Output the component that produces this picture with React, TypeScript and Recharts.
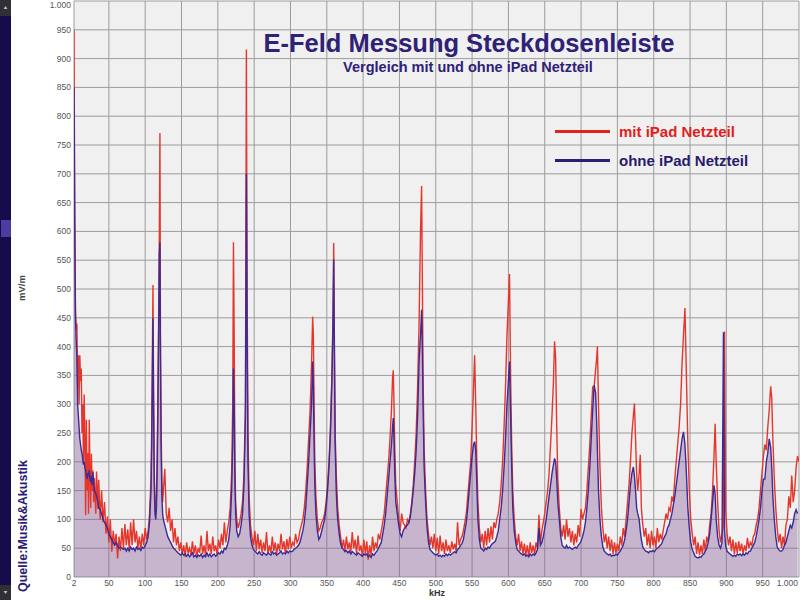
import React from "react";
import { ComposedChart, Line, Area, XAxis, YAxis, CartesianGrid } from "recharts";

const freqs = [2,3,4,5,6,7,8,9,10,11,12,13,14,15,16,17,18,19,20,21,22,23,24,25,26,27,28,29,30,32,33,35,36,38,40,42,44,46,48,50,52,54,56,58,60,62,64,66,68,70,72,74,76,78,80,82,84,86,88,90,92,94,96,98,100,102,104,106,108,109,110,110.7,111.5,112.5,113.5,114.5,115.5,116.5,117.5,118.5,119.5,120.3,121,122,123,124,125,127,129,131,133,135,137,139,141,143,145,147,149,151,153,155,157,159,161,163,165,167,169,171,173,175,177,179,181,183,185,187,189,191,193,195,197,199,201,203,205,207,209,211,213,215,217,219,220.5,221.5,222.5,223.5,224.5,226,228,230,232,234,236,238,239.3,240.3,241.5,243,245,247,249,251,253,255,257,259,261,263,265,267,269,271,273,275,277,279,281,283,285,287,289,291,293,295,297,299,301,303,305,307,309,311,313,315,317,319,321,323,325,327,329,330.5,331.5,332.5,333.5,335,337,339,341,343,345,347,349,351,353,355,357,358.5,359.5,360.5,361.5,363,364,365,367,369,371,373,375,377,379,381,383,385,387,389,391,393,395,397,399,401,403,405,407,409,411,413,415,417,419,421,423,425,427,429,431,433,435,437,439,440.5,441.5,442.5,443.5,445,447,449,451,453,455,457,459,461,463,465,467,469,471,473,475,477,479,480.5,481.5,482.5,484,486,488,490,492,494,496,498,500,502,504,506,508,510,512,514,516,518,520,522,524,526,528,530,532,534,536,538,540,542,544,546,548,550,552,553.5,555,556.5,558,560,562,564,566,568,570,572,574,576,578,580,582,584,586,588,590,592,594,596,598,600,601.5,603,604.5,606,608,610,612,614,616,618,620,622,624,626,628,630,632,634,636,638,640,642,644,646,648,650,652,654,656,658,660,662,663.5,665,666.5,668,670,672,674,676,678,680,682,684,686,688,690,692,694,696,698,700,702,704,706,708,710,712,714,716,718,720,721.5,722.5,724,726,728,730,732,734,736,738,740,742,744,746,748,750,752,754,756,758,760,762,764,766,768,770,772,773.5,775,776.5,778,780,781.5,783,785,787,789,791,793,795,797,799,801,803,805,807,809,811,813,815,817,819,821,823,825,827,829,831,833,835,837,839,841,843,845,847,849,851,853,855,857,859,861,863,865,867,869,871,873,875,877,879,881,883,884.5,886,888,890,892,894,896,897.5,899,901,903,905,907,909,911,913,915,917,919,921,923,925,927,929,931,933,935,937,939,941,943,945,947,949,951,953,955,957,959,961,962.5,964,966,968,970,972,974,976,978,980,982,984,986,988,990,992,994,996,998,1000];

const mitNetzteil = [950,640,465,430,440,330,385,300,385,340,362,250,300,200,317,235,107,273,150,215,110,273,180,120,214,150,185,130,172,110,183,118,169,100,150,95,130,75,105,60,100,44,80,55,75,32,70,45,85,50,92,55,83,48,95,55,100,60,80,50,70,48,75,55,85,65,80,110,170,260,400,507,330,180,130,110,140,200,317,450,600,771,420,250,160,130,150,188,110,95,120,80,100,60,85,55,70,45,60,40,55,35,60,42,50,38,62,40,55,35,50,42,72,40,55,38,80,45,58,40,70,45,55,38,65,50,75,55,95,60,80,95,120,180,300,581,420,200,130,100,85,95,110,130,180,300,916,500,250,140,90,70,55,80,45,75,48,65,42,60,45,78,40,55,42,70,45,60,40,58,45,75,48,62,42,66,48,70,50,60,55,75,60,65,80,90,100,120,150,190,240,290,370,452,420,300,200,140,100,80,85,95,100,110,130,160,200,260,350,450,580,400,250,180,150,120,90,70,50,65,45,70,48,60,42,78,50,65,40,72,45,55,35,65,40,62,30,55,38,70,45,60,50,75,65,80,95,110,140,170,200,240,290,345,359,300,230,160,130,100,80,110,95,90,85,100,95,110,130,160,200,250,330,440,600,679,520,350,220,150,100,75,55,70,50,75,45,68,40,72,45,60,40,65,45,55,42,62,48,58,45,95,55,65,70,80,95,110,140,170,200,260,330,385,300,200,130,85,60,75,50,80,55,85,60,88,65,95,85,100,110,130,160,200,260,330,420,480,526,350,230,150,100,70,55,75,45,62,40,58,38,55,35,60,42,55,40,60,50,108,60,80,95,110,130,150,180,230,280,340,409,380,260,170,120,85,70,90,65,100,70,85,60,80,55,75,60,90,70,118,100,110,120,150,190,230,280,330,330,360,380,400,300,190,120,85,60,75,50,70,45,65,40,60,42,58,45,70,55,85,70,100,130,160,200,250,280,301,240,180,150,180,212,120,90,70,85,55,75,50,80,55,70,50,85,60,75,65,80,95,110,100,120,115,140,130,170,200,230,260,300,370,420,467,350,230,150,100,75,55,70,40,60,38,55,40,65,45,70,60,90,110,150,210,266,200,130,80,60,75,90,426,120,75,55,70,45,65,40,60,42,62,45,58,40,55,45,68,50,60,55,70,75,90,100,120,150,180,210,230,220,260,290,331,310,240,170,120,85,60,75,50,70,55,90,100,140,120,176,130,150,190,210,200];

const ohneNetzteil = [850,620,452,410,380,300,280,260,240,230,220,215,205,195,200,190,185,175,170,180,175,185,170,165,175,160,182,165,150,145,140,130,120,117,110,100,95,90,85,75,70,65,60,55,60,55,50,52,50,48,50,45,50,45,52,48,50,45,52,48,50,46,52,50,55,60,70,95,150,230,360,449,300,160,110,100,120,190,291,420,560,581,380,220,140,110,100,90,80,70,65,60,55,50,48,45,42,40,38,42,38,40,36,40,35,38,42,35,38,34,38,36,40,34,38,35,42,36,40,35,38,40,36,38,42,40,45,42,50,48,55,65,90,150,230,362,300,170,110,80,70,75,90,110,160,280,700,420,200,110,70,55,48,45,42,40,44,40,38,42,40,38,42,40,38,44,40,42,38,40,42,45,40,42,40,45,42,45,44,45,48,50,52,55,60,70,80,95,120,160,200,250,300,374,330,230,160,110,80,65,70,80,90,100,120,150,190,250,340,440,551,380,230,150,120,100,75,58,50,48,44,46,42,45,40,44,42,40,38,42,40,38,36,40,38,40,35,38,34,40,38,42,45,50,55,60,75,90,110,140,170,200,230,260,276,240,180,130,110,90,75,70,80,85,88,90,95,105,125,150,180,220,280,374,420,464,400,300,190,130,85,60,48,45,42,40,38,40,36,38,35,38,36,40,37,40,38,40,42,44,42,48,50,55,58,65,80,95,120,150,180,210,230,235,220,160,100,65,50,48,45,50,48,52,50,55,58,60,62,70,80,100,120,150,190,240,300,340,374,280,190,120,80,60,48,45,42,40,38,40,36,38,35,40,37,40,38,42,48,85,55,60,70,85,100,120,140,160,180,195,206,200,170,130,100,70,55,52,50,55,50,52,50,48,50,52,50,55,58,62,70,80,95,120,150,190,240,290,333,320,270,220,150,100,70,52,45,42,40,38,40,36,38,37,40,38,42,45,50,55,65,80,100,130,160,180,191,175,150,120,110,100,80,65,52,48,45,44,42,45,44,46,44,48,50,52,55,58,65,70,75,85,90,100,110,125,140,160,180,200,220,240,252,230,180,120,85,60,48,42,36,34,33,35,34,38,40,45,50,60,75,100,130,159,145,100,70,55,50,60,425,80,55,45,42,40,38,36,38,36,40,38,40,37,40,38,42,40,44,45,50,55,60,70,85,100,120,150,170,170,200,215,240,225,190,140,100,70,52,48,45,45,48,55,60,70,80,90,85,95,110,117,110];

const xTicks = [2,50,100,150,200,250,300,350,400,450,500,550,600,650,700,750,800,850,900,950,1000];
const yTicks = [0,50,100,150,200,250,300,350,400,450,500,550,600,650,700,750,800,850,900,950,1000];

const chartTitle = "E-Feld Messung Steckdosenleiste";
const chartSubtitle = "Vergleich mit und ohne iPad Netzteil";
const seriesNames = ["mit iPad Netzteil", "ohne iPad Netzteil"];
const sourceText = "Quelle:Musik&Akustik";
const yUnit = "mV/m";
const xUnit = "kHz";

const data = freqs.map((f, i) => ({ f, mit: mitNetzteil[i], ohne: ohneNetzteil[i] }));

const fmt = (v: number) => (v === 1000 ? "1.000" : String(v));
const FONT = "'Liberation Sans', Arial, sans-serif";

const YTick = (props: any) => {
  const { y, payload } = props;
  const yy = payload.value === 1000 ? y + 4 : y;
  return (
    <text x={71} y={yy} dy="0.35em" textAnchor="end" fontSize={8.5} fill="#555" fontFamily={FONT}>
      {fmt(payload.value)}
    </text>
  );
};

const XTick = (props: any) => {
  const { x, payload } = props;
  const isLast = payload.value === 1000;
  return (
    <text
      x={isLast ? 798 : x}
      y={583}
      dy="0.35em"
      textAnchor={isLast ? "end" : "middle"}
      fontSize={8.5}
      fill="#555"
      fontFamily={FONT}
    >
      {fmt(payload.value)}
    </text>
  );
};

export default function App() {
  return (
    <div style={{ position: "absolute", left: 0, top: 0, width: 800, height: 600, background: "#fff", overflow: "hidden" }}>
      <ComposedChart width={800} height={600} data={data} margin={{ top: 1, right: 1, left: 0, bottom: 0 }}>
        <CartesianGrid fill="#f0f0f0" stroke="#9c9c9c" strokeWidth={1} />
        <XAxis
          dataKey="f"
          type="number"
          domain={[2, 1000]}
          ticks={xTicks}
          interval={0}
          height={23}
          axisLine={false}
          tickLine={false}
          tick={<XTick />}
          allowDataOverflow
        />
        <YAxis
          type="number"
          domain={[0, 1000]}
          ticks={yTicks}
          interval={0}
          width={74}
          axisLine={false}
          tickLine={false}
          tick={<YTick />}
          allowDataOverflow
        />
        <Area
          type="linear"
          dataKey="ohne"
          stroke="none"
          fill="#8a5c9a"
          fillOpacity={0.4}
          isAnimationActive={false}
          dot={false}
          activeDot={false}
        />
        <Line
          type="linear"
          dataKey="mit"
          stroke="#e5362c"
          strokeWidth={1.4}
          dot={false}
          activeDot={false}
          isAnimationActive={false}
        />
        <Line
          type="linear"
          dataKey="ohne"
          stroke="#3d2a94"
          strokeWidth={1.4}
          dot={false}
          activeDot={false}
          isAnimationActive={false}
        />
      </ComposedChart>
      <svg width={800} height={600} style={{ position: "absolute", left: 0, top: 0, pointerEvents: "none" }}>
        <rect x={0} y={0} width={11} height={600} fill="#160c4c" />
        <rect x={0} y={0} width={11} height={16} fill="#2f2f35" />
        <rect x={0} y={585} width={11} height={15} fill="#2f2f35" />
        <path d="M3.5,9 L5.5,6 L7.5,9 Z" fill="#bbb" />
        <path d="M3.5,591 L5.5,594 L7.5,591 Z" fill="#bbb" />
        <rect x={1} y={220} width={10} height={17} fill="#4b3ca2" />
        <text
          transform="translate(27,526) rotate(-90)"
          textAnchor="middle"
          fontSize={12.5}
          fontWeight="bold"
          fill="#2a1c74"
          fontFamily={FONT}
        >
          {sourceText}
        </text>
        <text
          transform="translate(25,288) rotate(-90)"
          textAnchor="middle"
          fontSize={9.5}
          fontWeight="bold"
          fill="#444"
          fontFamily={FONT}
        >
          {yUnit}
        </text>
        <text x={437} y={596} textAnchor="middle" fontSize={9} fontWeight="bold" fill="#333" fontFamily={FONT}>
          {xUnit}
        </text>
        <text x={469} y={52} textAnchor="middle" fontSize={25.5} fontWeight="bold" fill="#2e2176" fontFamily={FONT}>
          {chartTitle}
        </text>
        <text x={468} y={72} textAnchor="middle" fontSize={14.5} fontWeight="bold" fill="#2e2176" fontFamily={FONT}>
          {chartSubtitle}
        </text>
        <line x1={555} x2={610} y1={131.5} y2={131.5} stroke="#e2231a" strokeWidth={3} />
        <text x={619} y={137} fontSize={15} fontWeight="bold" fill="#e0201c" fontFamily={FONT}>
          {seriesNames[0]}
        </text>
        <line x1={555} x2={610} y1={160.5} y2={160.5} stroke="#2b1f7a" strokeWidth={3} />
        <text x={619} y={166} fontSize={15} fontWeight="bold" fill="#2a1a6e" fontFamily={FONT}>
          {seriesNames[1]}
        </text>
      </svg>
    </div>
  );
}
